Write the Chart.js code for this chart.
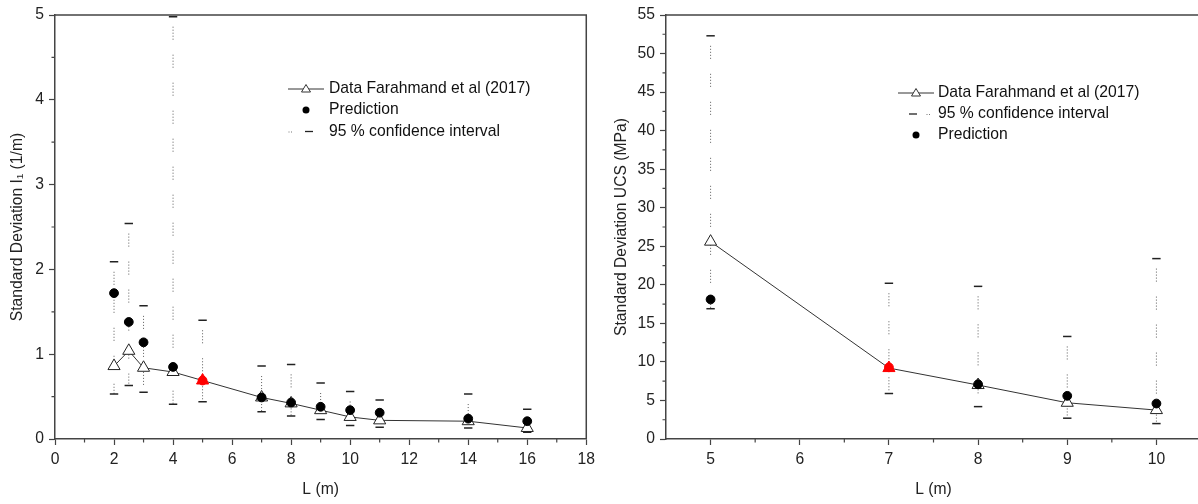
<!DOCTYPE html>
<html>
<head>
<meta charset="utf-8">
<script src="https://cdn.jsdelivr.net/npm/chart.js@4/dist/chart.umd.min.js"></script>
<style>
html, body { margin: 0; padding: 0; background: #fff; overflow: hidden; width: 1198px; height: 504px; }
#left { position: absolute; left: 0; top: 0; }
#right { position: absolute; left: 600px; top: 0; }
</style>
</head>
<body>
<canvas id="left" width="600" height="504"></canvas>
<canvas id="right" width="610" height="504"></canvas>
<script>
// left panel: I1
const leftL     = [2, 2.5, 3, 4, 5, 7, 8, 9, 10, 11, 14, 16];
const leftData  = [0.86, 1.04, 0.84, 0.79, 0.69, 0.49, 0.42, 0.34, 0.26, 0.22, 0.21, 0.13];
const leftPred  = [1.72, 1.38, 1.14, 0.85, 0.69, 0.49, 0.43, 0.38, 0.34, 0.31, 0.24, 0.21];
const leftUpper = [2.09, 2.54, 1.57, 4.98, 1.40, 0.86, 0.88, 0.66, 0.56, 0.46, 0.53, 0.35];
const leftLower = [0.53, 0.63, 0.55, 0.41, 0.44, 0.32, 0.27, 0.23, 0.16, 0.14, 0.13, 0.08];
const leftRed = 4;
const leftXTicks = [0, 2, 4, 6, 8, 10, 12, 14, 16, 18];
const leftXMinor = [1, 3, 5, 7, 9, 11, 13, 15, 17];
const leftYTicks = [0, 1, 2, 3, 4, 5];
const leftYMinor = [0.5, 1.5, 2.5, 3.5, 4.5];

// right panel: UCS
const rightL     = [5, 7, 8, 9, 10];
const rightData  = [25.6, 9.2, 7.0, 4.7, 3.75];
const rightPred  = [18.1, 9.3, 7.1, 5.6, 4.6];
const rightUpper = [52.3, 20.2, 19.8, 13.3, 23.4];
const rightLower = [16.9, 5.9, 4.2, 2.7, 2.0];
const rightRed = 1;
const rightXTicks = [5, 6, 7, 8, 9, 10];
const rightXMinor = [5.5, 6.5, 7.5, 8.5, 9.5];
const rightYTicks = [0, 5, 10, 15, 20, 25, 30, 35, 40, 45, 50, 55];
const rightYMinor = [2.5, 7.5, 12.5, 17.5, 22.5, 27.5, 32.5, 37.5, 42.5, 47.5, 52.5];

const labelData = 'Data Farahmand et al (2017)';
const labelPred = 'Prediction';
const labelCI = '95 % confidence interval';

const FONT = { family: '"Liberation Sans", Arial, sans-serif', size: 15.7 };
const INK = '#222';
const AXIS = '#444';

function pts(xs, ys) {
    return xs.map((x, i) => ({ x: x, y: ys[i] }));
}

// vertical dotted segments, broken by null points
function intervalPts(xs, lo, hi) {
    const out = [];
    xs.forEach((x, i) => {
        out.push({ x: x, y: hi[i] });
        out.push({ x: x, y: lo[i] });
        out.push({ x: x, y: null });
    });
    return out;
}

const frameAndMinor = {
    id: 'frameAndMinor',
    afterDraw(chart, args, opts) {
        const ctx = chart.ctx;
        const a = chart.chartArea;
        ctx.save();
        ctx.strokeStyle = AXIS;
        ctx.lineWidth = 1.5;
        ctx.beginPath();
        ctx.moveTo(a.left, a.top);
        ctx.lineTo(a.right, a.top);
        ctx.lineTo(a.right, a.bottom);
        ctx.stroke();

        const sx = chart.scales.x, sy = chart.scales.y;
        ctx.lineWidth = 1.2;
        ctx.beginPath();
        opts.x.forEach(v => {
            const px = sx.getPixelForValue(v);
            ctx.moveTo(px, a.bottom);
            ctx.lineTo(px, a.bottom + 3.5);
        });
        opts.y.forEach(v => {
            const py = sy.getPixelForValue(v);
            ctx.moveTo(a.left, py);
            ctx.lineTo(a.left - 3.5, py);
        });
        ctx.stroke();
        ctx.restore();
    }
};

// legend drawn inside the plot, rows given by the options
const boxLegend = {
    id: 'boxLegend',
    afterDraw(chart, args, opts) {
        const ctx = chart.ctx;
        ctx.save();
        ctx.font = FONT.size + 'px ' + FONT.family;
        ctx.textBaseline = 'middle';
        ctx.fillStyle = '#111';
        opts.rows.forEach(r => {
            const y = r.y;
            const c = opts.sym;
            if (r.kind === 'data') {
                ctx.strokeStyle = '#333';
                ctx.lineWidth = 1;
                ctx.beginPath();
                ctx.moveTo(c - 18, y);
                ctx.lineTo(c + 18, y);
                ctx.stroke();
                ctx.fillStyle = '#fff';
                ctx.beginPath();
                ctx.moveTo(c, y - 4.5);
                ctx.lineTo(c + 4.5, y + 3);
                ctx.lineTo(c - 4.5, y + 3);
                ctx.closePath();
                ctx.fill();
                ctx.stroke();
            } else if (r.kind === 'pred') {
                ctx.fillStyle = '#000';
                ctx.beginPath();
                ctx.arc(c, y, 3.5, 0, Math.PI * 2);
                ctx.fill();
            } else {
                ctx.strokeStyle = '#222';
                ctx.lineWidth = 1.3;
                ctx.beginPath();
                ctx.moveTo(c + r.dash - 4, y);
                ctx.lineTo(c + r.dash + 4, y);
                ctx.stroke();
                ctx.fillStyle = '#777';
                ctx.fillRect(c + r.dots - 1.5, y, 1, 1);
                ctx.fillRect(c + r.dots + 1, y, 1, 1);
            }
            ctx.fillStyle = '#111';
            ctx.fillText(r.text, opts.textX, y);
        });
        ctx.restore();
    }
};

function makeChart(id, cfg) {
    const redFill = ctx => ctx.dataIndex === cfg.red ? '#ff0000' : '#000';
    const triFill = ctx => ctx.dataIndex === cfg.red ? '#ff0000' : '#fff';
    const triEdge = ctx => ctx.dataIndex === cfg.red ? '#ff0000' : '#222';
    return new Chart(document.getElementById(id), {
        type: 'scatter',
        data: {
            datasets: [
                {
                    label: labelPred,
                    data: pts(cfg.L, cfg.pred),
                    pointStyle: 'circle',
                    pointRadius: 4.4,
                    pointBackgroundColor: redFill,
                    pointBorderColor: redFill,
                    showLine: false
                },
                {
                    label: labelData,
                    data: pts(cfg.L, cfg.data),
                    showLine: true,
                    borderColor: '#333',
                    borderWidth: 1,
                    pointStyle: 'triangle',
                    pointRadius: 7,
                    pointBorderWidth: 1,
                    pointBackgroundColor: triFill,
                    pointBorderColor: triEdge
                },
                {
                    label: labelCI,
                    data: pts(cfg.L, cfg.upper),
                    showLine: false,
                    pointStyle: 'line',
                    pointRadius: 4.2,
                    pointBorderWidth: 1.5,
                    pointBorderColor: '#222'
                },
                {
                    label: labelCI,
                    data: pts(cfg.L, cfg.lower),
                    showLine: false,
                    pointStyle: 'line',
                    pointRadius: 4.2,
                    pointBorderWidth: 1.5,
                    pointBorderColor: '#222'
                },
                {
                    label: labelCI,
                    data: intervalPts(cfg.L, cfg.lower, cfg.upper),
                    showLine: true,
                    spanGaps: false,
                    borderColor: '#5a5a5a',
                    borderWidth: 1,
                    borderDash: [1, 2, 1, 2, 1, 2, 1, 2, 1, 15],
                    borderDashOffset: -10,
                    pointRadius: 0
                }
            ]
        },
        options: {
            responsive: false,
            animation: false,
            events: [],
            layout: { padding: { top: 15, right: cfg.padRight, left: 0, bottom: 0 } },
            plugins: {
                legend: { display: false },
                tooltip: { enabled: false },
                frameAndMinor: { x: cfg.xMinor, y: cfg.yMinor },
                boxLegend: cfg.legend
            },
            scales: {
                x: {
                    type: 'linear',
                    min: cfg.xMin,
                    max: cfg.xMax,
                    afterBuildTicks: s => { s.ticks = cfg.xTicks.map(v => ({ value: v })); },
                    afterFit: s => { s.height = 65; },
                    grid: { drawOnChartArea: false, tickLength: 6, tickColor: AXIS, tickWidth: 1.2 },
                    border: { color: AXIS, width: 1.5 },
                    ticks: { color: INK, font: FONT, padding: 5, maxRotation: 0, autoSkip: false },
                    title: { display: true, text: 'L (m)', color: INK, font: FONT, padding: { top: 0, bottom: 5 } }
                },
                y: {
                    type: 'linear',
                    min: cfg.yMin,
                    max: cfg.yMax,
                    afterBuildTicks: s => { s.ticks = cfg.yTicks.map(v => ({ value: v })); },
                    afterFit: s => { s.width = cfg.yWidth; },
                    grid: { drawOnChartArea: false, tickLength: 6, tickColor: AXIS, tickWidth: 1.2 },
                    border: { color: AXIS, width: 1.5 },
                    ticks: { color: INK, font: FONT, padding: 5, autoSkip: false },
                    title: { display: true, text: cfg.yTitle, color: INK, font: FONT, padding: { top: cfg.titlePad, bottom: 0 } }
                }
            }
        },
        plugins: [frameAndMinor, boxLegend]
    });
}

makeChart('left', {
    L: leftL, data: leftData, pred: leftPred, upper: leftUpper, lower: leftLower, red: leftRed,
    xMin: 0, xMax: 18, yMin: 0, yMax: 5,
    xTicks: leftXTicks, xMinor: leftXMinor, yTicks: leftYTicks, yMinor: leftYMinor,
    yTitle: 'Standard Deviation I\u2081 (1/m)', yWidth: 55, titlePad: 8.6, padRight: 11,
    legend: {
        sym: 306, textX: 329,
        rows: [
            { kind: 'data', y: 89, text: labelData },
            { kind: 'pred', y: 110, text: labelPred },
            { kind: 'ci', y: 131.5, text: labelCI, dots: -16, dash: 3 }
        ]
    }
});

makeChart('right', {
    L: rightL, data: rightData, pred: rightPred, upper: rightUpper, lower: rightLower, red: rightRed,
    xMin: 4.5, xMax: 10.5, yMin: 0, yMax: 55,
    xTicks: rightXTicks, xMinor: rightXMinor, yTicks: rightYTicks, yMinor: rightYMinor,
    yTitle: 'Standard Deviation UCS (MPa)', yWidth: 66, titlePad: 12.6, padRight: 9,
    legend: {
        sym: 316, textX: 338,
        rows: [
            { kind: 'data', y: 93, text: labelData },
            { kind: 'ci', y: 114, text: labelCI, dots: 12, dash: -3 },
            { kind: 'pred', y: 135, text: labelPred }
        ]
    }
});
</script>
</body>
</html>
